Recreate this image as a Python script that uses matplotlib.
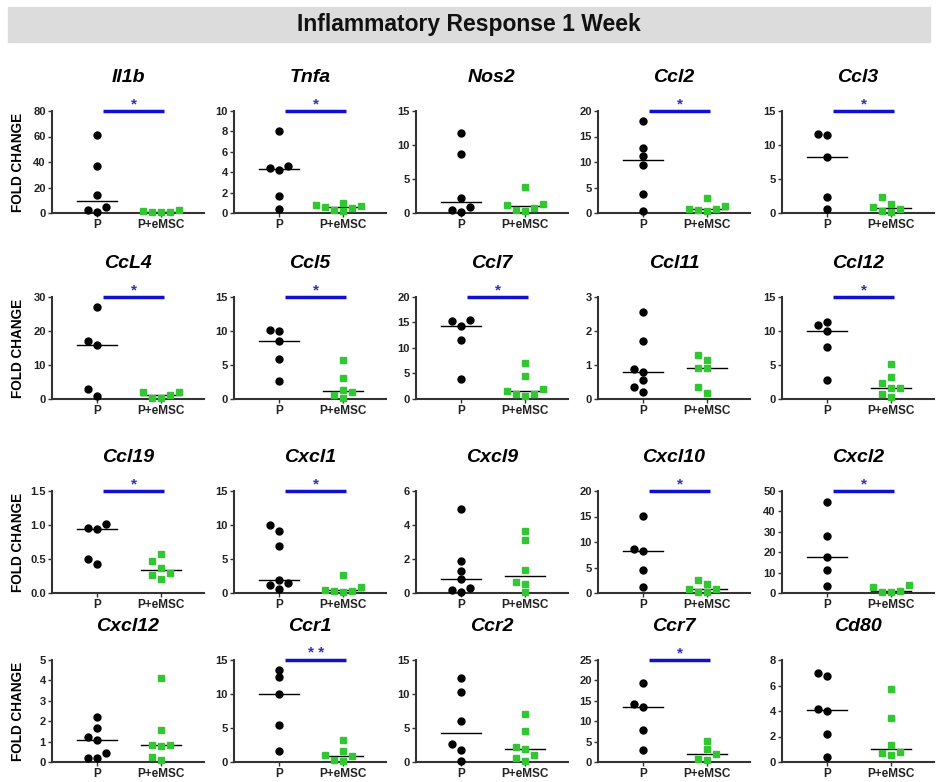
import numpy as np
import matplotlib
matplotlib.use("Agg")
import matplotlib.pyplot as plt
from matplotlib.patches import Rectangle

plt.rcParams["font.family"] = ["Liberation Sans", "DejaVu Sans"]

genes = ["Il1b", "Tnfa", "Nos2", "Ccl2", "Ccl3",
         "CcL4", "Ccl5", "Ccl7", "Ccl11", "Ccl12",
         "Ccl19", "Cxcl1", "Cxcl9", "Cxcl10", "Cxcl2",
         "Cxcl12", "Ccr1", "Ccr2", "Ccr7", "Cd80"]
groups = ["P", "P+eMSC"]
y_max = [80, 10, 15, 20, 15,
         30, 15, 20, 3, 15,
         1.5, 15, 6, 20, 50,
         5, 15, 15, 25, 8]
y_step = [20, 2, 5, 5, 5,
          10, 5, 5, 1, 5,
          0.5, 5, 2, 5, 10,
          1, 5, 5, 5, 2]
signif = ["*", "*", "", "*", "*",
          "*", "*", "*", "", "*",
          "*", "*", "", "*", "*",
          "", "* *", "", "*", ""]

p_values = [
    [61.5, 37, 14, 4.7, 1.0, 2.6],
    [8.0, 4.6, 4.2, 4.4, 1.65, 0.35],
    [11.7, 8.7, 2.2, 0.9, 0.1, 0.4],
    [18.1, 12.8, 11.1, 9.5, 3.8, 0.45],
    [11.6, 11.5, 8.2, 2.4, 0.6],
    [27.1, 17.1, 16.0, 2.9, 0.8],
    [10.2, 10.05, 8.55, 5.9, 2.7],
    [15.4, 15.3, 14.3, 11.5, 3.9],
    [2.55, 1.7, 0.87, 0.79, 0.56, 0.36, 0.22],
    [11.25, 10.9, 9.95, 7.7, 2.8],
    [1.01, 0.96, 0.945, 0.5, 0.43],
    [10.0, 9.1, 6.95, 1.87, 1.53, 1.18, 0.64],
    [4.95, 1.9, 1.31, 0.82, 0.27, 0.06, 0.15],
    [15.05, 8.6, 8.33, 4.6, 1.1],
    [44.4, 27.9, 17.8, 11.3, 3.4],
    [2.2, 1.66, 1.25, 1.07, 0.46, 0.22, 0.22],
    [13.6, 12.45, 10.05, 5.37, 1.63],
    [12.4, 10.3, 6.0, 2.6, 1.8, 0.2],
    [19.25, 14.2, 13.6, 7.9, 2.83],
    [6.97, 6.77, 4.18, 3.97, 2.21, 0.38],
]
emsc_values = [
    [2.2, 1.0, 0.6, 0.9, 1.6],
    [0.8, 0.6, 0.3, 0.15, 0.45, 0.7, 1.0],
    [3.85, 1.3, 0.8, 0.3, 0.4, 1.15],
    [3.0, 1.3, 0.75, 0.35, 0.5, 0.8],
    [0.6, 2.3, 0.15, 0.3, 1.35, 0.85],
    [2.0, 1.3, 0.4, 0.4, 2.1],
    [5.7, 3.07, 1.3, 0.98, 0.15, 0.55],
    [1.95, 0.9, 0.5, 0.9, 1.65, 7.0, 4.5],
    [1.28, 1.15, 0.9, 0.9, 0.36, 0.17],
    [1.55, 3.25, 0.25, 2.35, 0.75, 1.55, 5.1],
    [0.58, 0.47, 0.37, 0.3, 0.27, 0.2],
    [2.6, 0.85, 0.45, 0.3, 0.1, 0.35],
    [3.66, 3.14, 1.37, 0.63, 0.53, 0.06],
    [1.85, 0.85, 0.25, 0.25, 0.7, 2.5],
    [3.9, 0.8, 0.3, 0.5, 2.7],
    [4.1, 1.58, 0.83, 0.81, 0.77, 0.25, 0.1],
    [0.88, 0.2, 1.6, 3.3, 0.35, 1.0],
    [7.0, 4.58, 2.27, 1.87, 1.03, 0.6, 0.1],
    [5.17, 3.25, 2.08, 0.83, 0.4],
    [5.7, 3.42, 1.31, 0.78, 0.7, 0.53],
]

W, H = 938, 782
lefts = [52, 234, 416, 598, 782]
tops = [111, 297, 491, 660]
AW, AH = 152, 102
XLIM = (0.3, 2.67)
GREEN = "#33c633"
AXC = "#333333"


def swarm(vals, yrange, step=0.14):
    # simple beeswarm offsets so points that overlap sit side by side
    px_x = AW / (XLIM[1] - XLIM[0])
    order = np.argsort(vals)
    offs = np.zeros(len(vals))
    placed = []
    for i in order:
        y = vals[i] / yrange * AH
        for k in [0, -1, 1, -2, 2, -3, 3]:
            x = k * step * px_x
            if all(np.hypot(x - a, y - b) >= 7.5 for a, b in placed):
                break
        placed.append((x, y))
        offs[i] = k * step
    return offs


fig = plt.figure(figsize=(W / 100, H / 100), dpi=100)

fig.patches.append(Rectangle((8 / W, 1 - 42 / H), 922 / W, 35 / H,
                             transform=fig.transFigure, color="#dcdcdc",
                             zorder=0))
fig.text(469 / W, 1 - 25 / H, "Inflammatory Response 1 Week", ha="center",
         va="center", fontsize=16.5, fontweight="bold", color="#111111")

for idx, gene in enumerate(genes):
    r, c = divmod(idx, 5)
    ax = fig.add_axes([lefts[c] / W, 1 - (tops[r] + AH) / H, AW / W, AH / H])
    ym = y_max[idx]
    for g, vals in enumerate([p_values[idx], emsc_values[idx]]):
        vals = np.array(vals)
        xs = g + 1 + swarm(vals, ym)
        if g == 0:
            ax.plot(xs, vals, "o", color="black", markersize=5, clip_on=False,
                    zorder=3)
        else:
            ax.plot(xs, vals, "s", color=GREEN, markersize=5, clip_on=False,
                    zorder=3)
        med = np.median(vals)
        ax.plot([g + 1 - 0.31, g + 1 + 0.31], [med, med], color="black",
                lw=1, zorder=2)

    ax.set_xlim(*XLIM)
    ax.set_ylim(0, ym)
    ticks = np.arange(0, ym + y_step[idx] / 2, y_step[idx])
    ax.set_yticks(ticks)
    if ym < 2:
        ax.set_yticklabels([f"{t:.1f}" for t in ticks])
    else:
        ax.set_yticklabels([f"{t:g}" for t in ticks])
    ax.set_xticks([1, 2])
    ax.set_xticklabels(groups)
    for lab in ax.get_yticklabels():
        lab.set_fontweight("bold")
        lab.set_fontsize(8)
        lab.set_color("#222222")
    for lab in ax.get_xticklabels():
        lab.set_fontweight("bold")
        lab.set_fontsize(8.5)
        lab.set_color("#222222")
    ax.tick_params(axis="both", length=3, width=1, color=AXC, pad=1.5)
    ax.tick_params(axis="x", pad=1)
    for s in ["top", "right"]:
        ax.spines[s].set_visible(False)
    for s in ["left", "bottom"]:
        ax.spines[s].set_color(AXC)
        ax.spines[s].set_linewidth(1.5)

    ax.text(0.5, 1.33, gene, transform=ax.transAxes, ha="center",
            va="center", fontsize=14, fontweight="bold", style="italic")

    if signif[idx]:
        ax.plot([1.1, 2.05], [ym, ym], color="#1010d0", lw=2.5,
                solid_capstyle="butt", clip_on=False)
        ax.text(1.575, 1.0, signif[idx], transform=ax.get_xaxis_transform(),
                ha="center", va="bottom", fontsize=11, fontweight="bold",
                color="#3030c0")

    if c == 0:
        fig.text(18 / W, 1 - (tops[r] + AH / 2) / H, "FOLD CHANGE",
                 rotation=90, ha="center", va="center", fontsize=9.8,
                 fontweight="bold")

fig.savefig("out.png", dpi=100)
